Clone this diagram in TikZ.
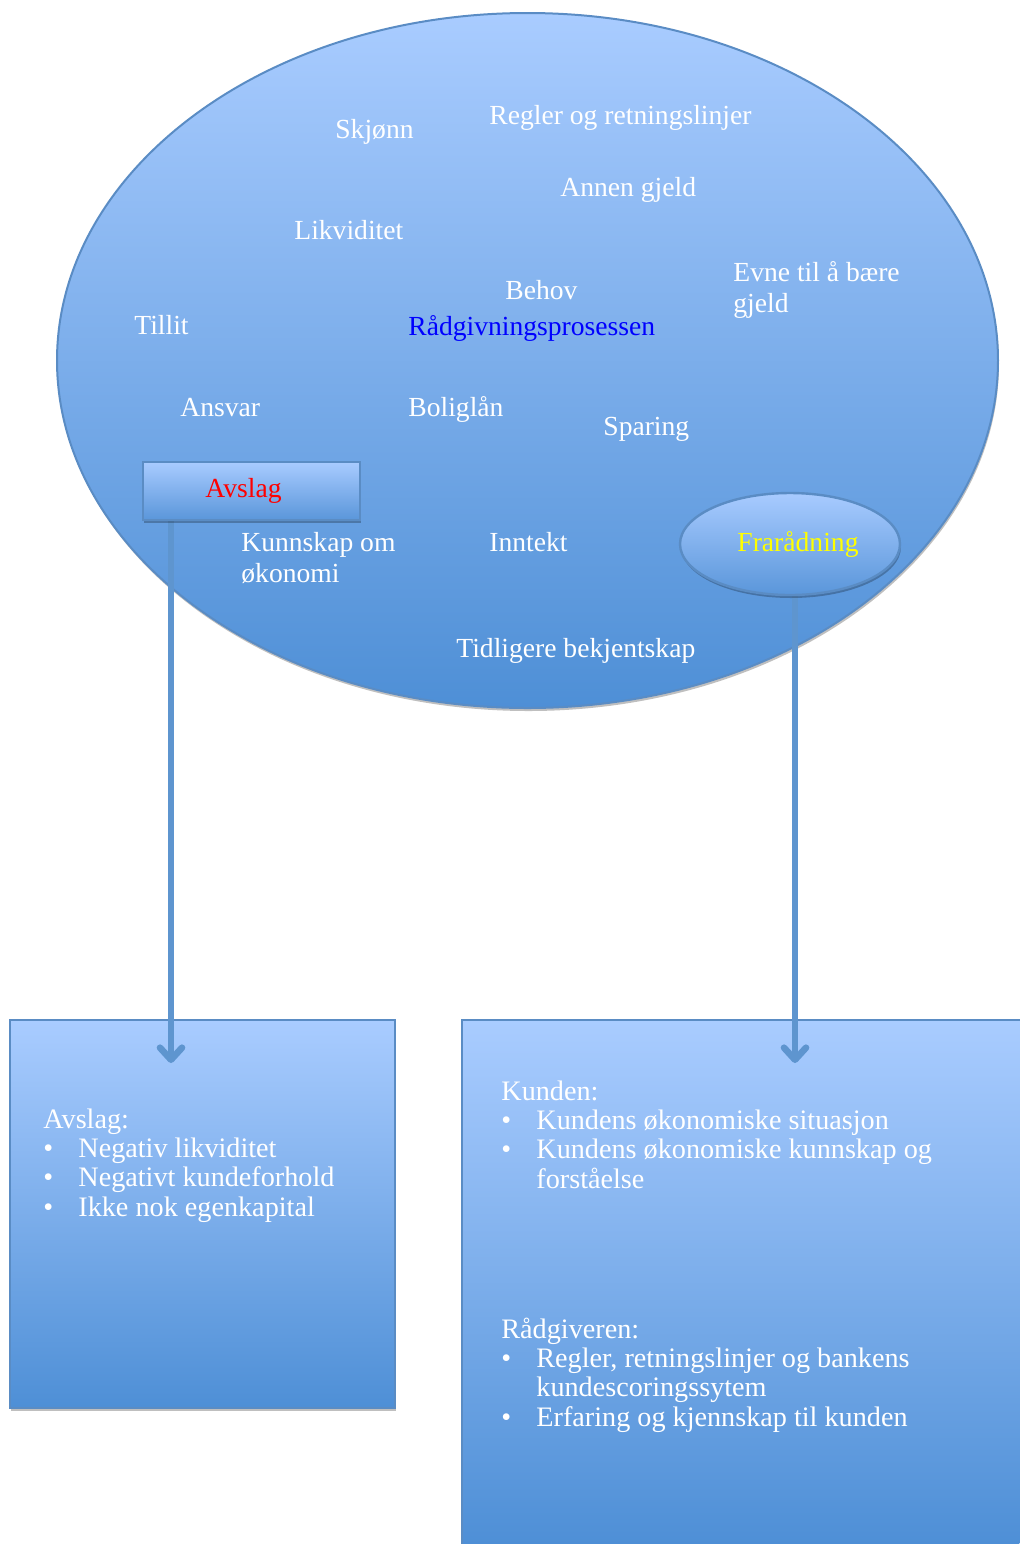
\documentclass[tikz,border=0pt]{standalone}
\usepackage{fontspec}
\setmainfont{Liberation Serif}
\usetikzlibrary{shapes.geometric,shadows,arrows.meta}
\pgfdeclarelayer{bg}
\pgfdeclarelayer{arr}
\pgfsetlayers{bg,arr,main}
\definecolor{gtop}{HTML}{A9CCFF}
\definecolor{gbot}{HTML}{4E8FD6}
\definecolor{edgeblue}{HTML}{5A8CC4}
\definecolor{arrowc}{HTML}{5E95CF}
\definecolor{smalltop}{HTML}{A8CBFF}
\definecolor{smallbot}{HTML}{5A96DA}
\newcommand{\lbul}{\makebox[17.5pt][l]{\textbullet}}
\begin{document}
\begin{tikzpicture}[x=0.5pt,y=-0.5pt,
  lbl/.style={anchor=base west, inner sep=0pt, text=white, font=\fontsize{13.8pt}{15.5pt}\selectfont},
  lst/.style={anchor=base west, inner sep=0pt, text=white, font=\fontsize{14.1pt}{14.7pt}\selectfont},
  shadedshape/.style={top color=gtop, bottom color=gbot, draw=edgeblue, line width=1pt},
  smallshape/.style={top color=smalltop, bottom color=smallbot, draw=edgeblue, line width=1.2pt, inner sep=0pt, font=\fontsize{13.8pt}{15.5pt}\selectfont},
  soft/.style={drop shadow={shadow xshift=0.5pt, shadow yshift=-1.5pt, opacity=0.25, fill=black}},
  conn/.style={draw=arrowc, line width=3.3pt, -{Straight Barb[length=6pt,width=11pt,round]}}
]
\useasboundingbox (0,0) rectangle (1019,1544);

\begin{pgfonlayer}{bg}
\node[ellipse, shadedshape, soft, minimum width=470.5pt, minimum height=347.5pt, inner sep=0pt] (proc) at (527.5,360.5) {};
\node[rectangle, shadedshape, soft, minimum width=192.5pt, minimum height=194pt, inner sep=0pt] (lbox) at (202.5,1214) {};
\node[rectangle, top color=gtop, bottom color=gbot, minimum width=278.5pt, minimum height=262pt, inner sep=0pt, anchor=north west] (rbox) at (462,1020) {};
\draw[edgeblue, line width=1pt] (rbox.south west) -- (rbox.north west) -- (rbox.north east);
\end{pgfonlayer}

% small shapes on the big ellipse
\node[rectangle, smallshape, soft, minimum width=108.5pt, minimum height=29pt, text=red] (avslag) at (251.5,491) {Avslag\kern8pt};
\node[ellipse, smallshape, soft, minimum width=110pt, minimum height=51pt, text={rgb,255:red,255;green,255;blue,0}] (frar) at (790,544) {\hspace{8pt}Frarådning};

% arrows
\coordinate (lend) at (171,1063);
\coordinate (rend) at (795,1063);
\begin{pgfonlayer}{arr}
\draw[conn] (avslag.center -| lend) -- (lend);
\draw[conn] (frar.center -| rend) -- (rend);
\end{pgfonlayer}

% words in the big ellipse
\node[lbl] (t1) at (335,138) {Skjønn};
\node[lbl] (t2) at (489,124) {Regler og retningslinjer};
\node[lbl] (t3) at (560,196) {Annen gjeld};
\node[lbl] (t4) at (294,239) {Likviditet};
\node[lbl] (t5) at (733,281) {\begin{tabular}[t]{@{}l@{}}Evne til å bære\\gjeld\end{tabular}};
\node[lbl] (t6) at (505,299) {Behov};
\node[lbl] (t7) at (134,334) {Tillit};
\node[lbl, text=blue] (t8) at (408,335) {Rådgivningsprosessen};
\node[lbl] (t9) at (180,416) {Ansvar};
\node[lbl] (t10) at (408,416) {Boliglån};
\node[lbl] (t11) at (603,435) {Sparing};
\node[lbl] (t12) at (241,551) {\begin{tabular}[t]{@{}l@{}}Kunnskap om\\økonomi\end{tabular}};
\node[lbl] (t13) at (489,551) {Inntekt};
\node[lbl] (t14) at (456,657) {Tidligere bekjentskap};

% lists in the lower boxes
\node[lst] (llist) at (43,1128) {\begin{tabular}[t]{@{}l@{}}Avslag:\\
\lbul Negativ likviditet\\
\lbul Negativt kundeforhold\\
\lbul Ikke nok egenkapital\end{tabular}};
\node[lst] (klist) at (501,1100) {\begin{tabular}[t]{@{}l@{}}Kunden:\\
\lbul Kundens økonomiske situasjon\\
\lbul Kundens økonomiske kunnskap og\\
\hspace*{17.5pt}forståelse\end{tabular}};
\node[lst] (rlist) at (501,1338) {\begin{tabular}[t]{@{}l@{}}Rådgiveren:\\
\lbul Regler, retningslinjer og bankens\\
\hspace*{17.5pt}kundescoringssytem\\
\lbul Erfaring og kjennskap til kunden\end{tabular}};
\end{tikzpicture}
\end{document}
